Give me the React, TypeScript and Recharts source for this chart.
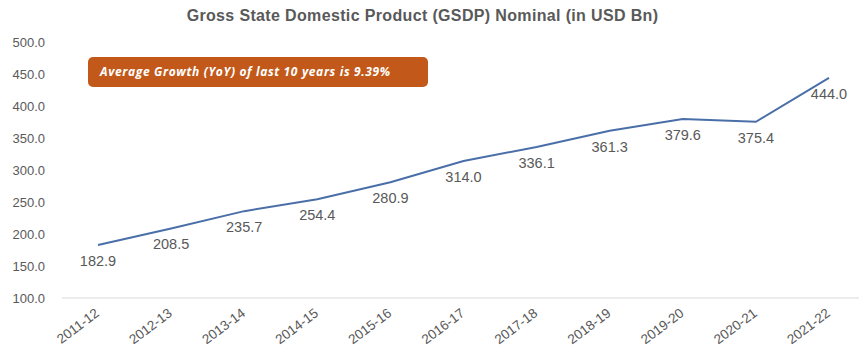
import { LineChart, Line, XAxis, YAxis, LabelList } from "recharts";

// GSDP nominal, USD Bn
const years = [
  "2011-12", "2012-13", "2013-14", "2014-15", "2015-16", "2016-17",
  "2017-18", "2018-19", "2019-20", "2020-21", "2021-22",
];
const gsdp = [182.9, 208.5, 235.7, 254.4, 280.9, 314.0, 336.1, 361.3, 379.6, 375.4, 444.0];
const yTicks = [100, 150, 200, 250, 300, 350, 400, 450, 500];

const data = years.map((year, i) => ({ year, value: gsdp[i] }));

const GREY = "#595959";

function YearTick({ x, y, payload }: any) {
  const tx = x + 2;
  const ty = y + 9;
  return (
    <text
      x={tx}
      y={ty}
      transform={`rotate(-37, ${tx}, ${ty})`}
      textAnchor="end"
      fontSize={13.5}
      fill={GREY}
      fontFamily="Liberation Sans, Arial, sans-serif"
    >
      {payload.value}
    </text>
  );
}

function ValueLabel({ x, y, value }: any) {
  return (
    <text
      x={x}
      y={y + 17}
      textAnchor="middle"
      dominantBaseline="middle"
      fontSize={14.5}
      fill={GREY}
      fontFamily="Liberation Sans, Arial, sans-serif"
    >
      {Number(value).toFixed(1)}
    </text>
  );
}

export default function App() {
  return (
    <div
      style={{
        position: "absolute",
        left: 0,
        top: 0,
        width: 859,
        height: 347,
        background: "#fff",
        fontFamily: "Liberation Sans, Arial, sans-serif",
      }}
    >
      <div
        style={{
          position: "absolute",
          left: 0,
          top: 7,
          width: 845,
          textAlign: "center",
          fontSize: 16,
          letterSpacing: 0.35,
          fontWeight: 700,
          color: GREY,
        }}
      >
        Gross State Domestic Product (GSDP) Nominal (in USD Bn)
      </div>

      <div
        style={{
          position: "absolute",
          left: 88,
          top: 57,
          width: 340,
          height: 30,
          borderRadius: 5,
          background: "#c2591a",
          color: "#fff",
          fontFamily: "Open Sans, sans-serif",
          fontWeight: 700,
          fontStyle: "italic",
          fontSize: 12,
          letterSpacing: 0.65,
          lineHeight: "30px",
          paddingLeft: 12,
          boxSizing: "border-box",
        }}
      >
        Average Growth (YoY) of last 10 years is 9.39%
      </div>

      <LineChart
        width={859}
        height={347}
        data={data}
        margin={{ top: 42, right: 0, bottom: 0, left: 0 }}
      >
        <XAxis
          dataKey="year"
          axisLine={{ stroke: "#d9d9d9" }}
          tickLine={false}
          tick={<YearTick />}
          interval={0}
          height={49}
          padding={{ left: 36, right: 30 }}
        />
        <YAxis
          domain={[100, 500]}
          ticks={yTicks}
          axisLine={false}
          tickLine={false}
          width={62}
          tickMargin={11}
          tickFormatter={(v) => Number(v).toFixed(1)}
          tick={{ fontSize: 13, fill: GREY, fontFamily: "Liberation Sans, Arial, sans-serif" }}
        />
        <Line
          type="linear"
          dataKey="value"
          stroke="#4a6fa8"
          strokeWidth={2}
          dot={false}
          isAnimationActive={false}
        >
          <LabelList dataKey="value" content={<ValueLabel />} />
        </Line>
      </LineChart>
    </div>
  );
}
